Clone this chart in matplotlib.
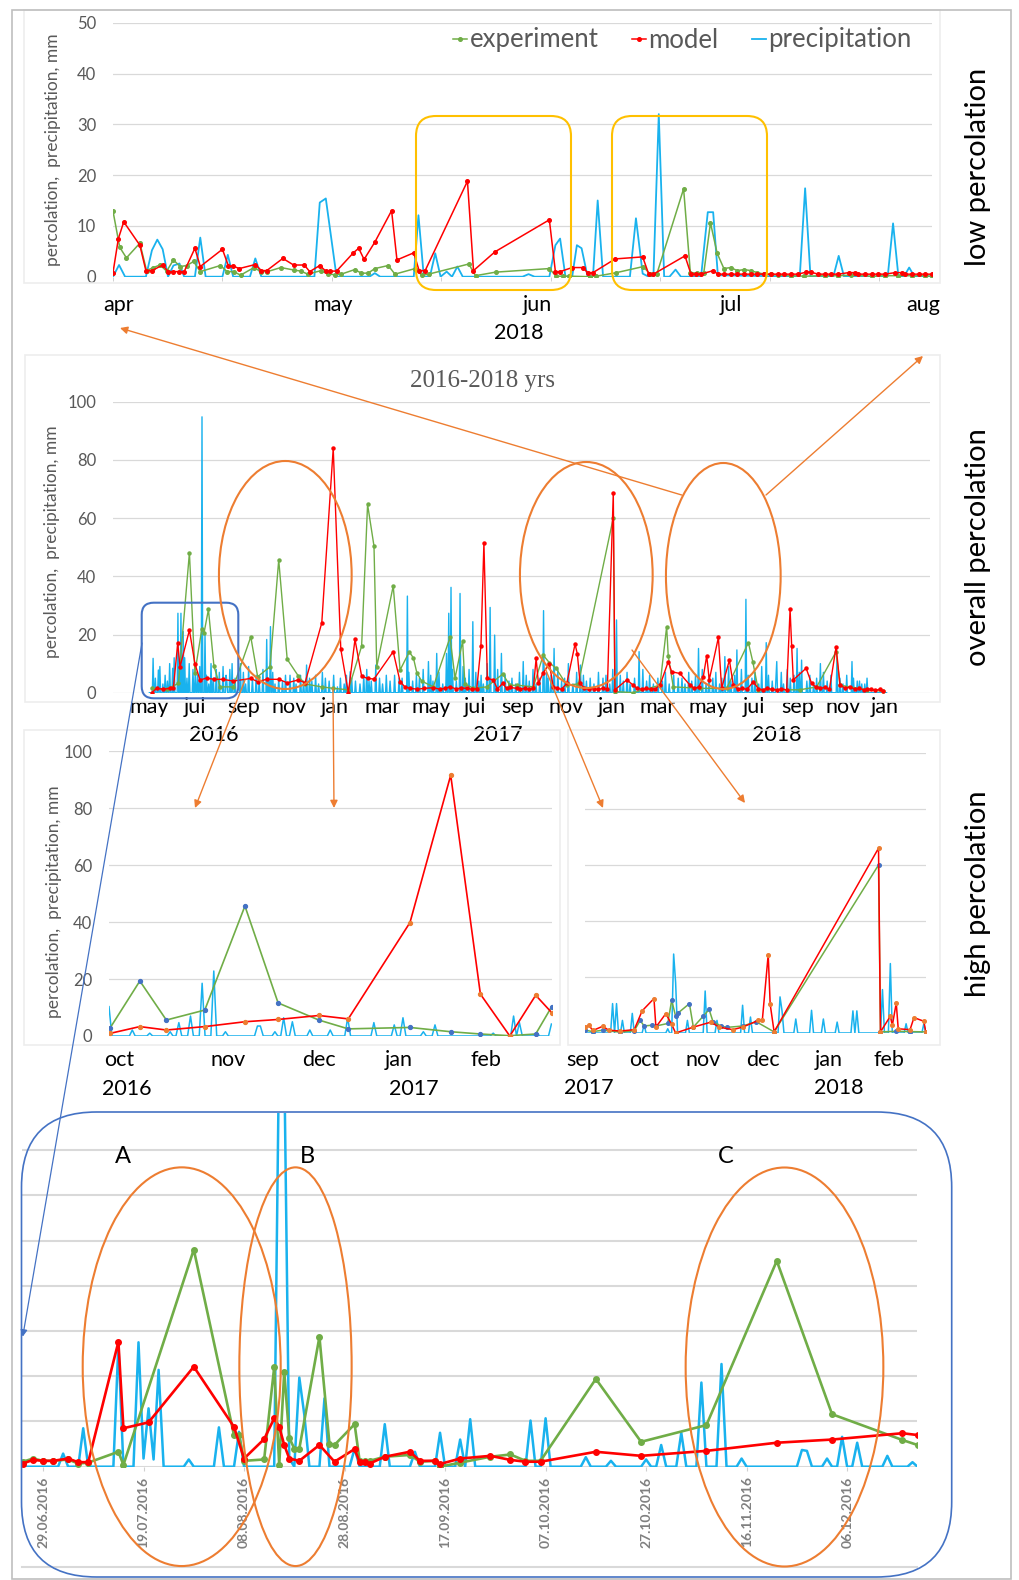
import numpy as np
import matplotlib
matplotlib.use('Agg')
import matplotlib.pyplot as plt
from matplotlib.patches import Ellipse, FancyBboxPatch, FancyArrowPatch, Rectangle
from matplotlib.lines import Line2D

plt.rcParams['font.family'] = ['Lato', 'DejaVu Sans']

# ---------------- DATA ----------------
# Top panel (low percolation, Apr-Aug 2018), x = day since 1 Apr 2018
top_months = ['apr', 'may', 'jun', 'jul', 'aug']
top_month_pos = [0.9, 32.8, 63.2, 92.1, 120.7]
top_year = ['2018']
top_year_pos = [60.5]
top_exp_day = [0, 1, 2, 4, 5, 6, 7, 8, 9, 10, 11, 12, 13, 16, 17, 18, 19, 21, 22, 23, 25, 27, 28, 29,
               31, 32, 33, 34, 36, 37, 38, 39, 41, 42, 45, 46, 47, 53, 54, 57, 65, 66, 67, 68, 71, 72,
               75, 79, 80, 81, 85, 86, 87, 88, 89, 90, 91, 92, 93, 94, 95, 96, 97, 98, 99, 101, 103,
               106, 108, 110, 113, 115, 117, 119, 121, 122]
top_exp_val = [12.9, 5.8, 3.7, 6.6, 1.2, 1.8, 2.3, 1.1, 3.3, 2.0, 2.2, 3.0, 1.0, 2.2, 1.0, 1.0, 0.3, 1.8,
               1.0, 1.0, 1.8, 1.3, 1.1, 0.5, 1.2, 0.5, 0.4, 0.5, 1.4, 0.7, 0.7, 1.6, 2.2, 0.5, 1.6, 0.3,
               0.5, 2.5, 0.2, 0.9, 1.6, 0.1, 0.1, 0.1, 0.0, 0.1, 0.8, 2.0, 0.5, 0.5, 17.3, 0.8, 0.7, 0.7,
               10.6, 4.6, 1.6, 1.8, 1.2, 1.4, 1.2, 0.8, 0.5, 0.5, 0.3, 0.2, 0.1, 0.2, 0.2, 0.3, 0.1, 0.2,
               0.2, 0.2, 0.2, 0.1]
top_mod_day = [0, 0.8, 1.6, 4.0, 4.9, 5.8, 7.4, 8.2, 9.0, 9.9, 10.6, 12.2, 13.0, 16.3, 17.2, 17.9, 18.8,
               21.2, 22.1, 22.9, 25.3, 26.9, 28.5, 29.3, 30.8, 31.7, 32.3, 33.3, 35.8, 36.6, 37.4, 39.0,
               41.5, 42.3, 44.8, 45.6, 46.5, 52.8, 53.7, 56.9, 65.0, 65.9, 66.6, 68.4, 70.0, 70.7, 71.5,
               74.8, 78.9, 79.8, 80.5, 85.2, 86.1, 86.9, 87.6, 89.4, 90.1, 91, 92, 93, 94, 95, 96, 97,
               98, 99, 100, 101, 102, 103.3, 104, 105, 106, 107, 108, 109.6, 110.5, 111, 112, 113, 114,
               115, 116.5, 117.5, 118, 119, 120, 121, 122]
top_mod_val = [0.8, 7.5, 10.8, 6.2, 1.2, 1.2, 2.3, 1.0, 1.0, 1.0, 1.0, 5.6, 2.0, 5.4, 2.1, 2.1, 1.6, 2.4,
               1.2, 1.2, 3.6, 2.3, 2.3, 1.0, 2.2, 1.1, 1.1, 1.1, 4.7, 5.6, 3.4, 6.8, 13.0, 3.3, 4.7, 1.2,
               1.2, 18.8, 1.2, 4.9, 11.2, 1.0, 1.0, 1.8, 1.8, 0.8, 0.8, 3.5, 3.9, 0.5, 0.5, 4.1, 0.5, 0.5,
               0.5, 1.2, 0.5, 0.5, 0.5, 0.5, 0.5, 0.5, 0.5, 0.5, 0.5, 0.5, 0.5, 0.5, 0.5, 0.9, 0.9, 0.5,
               0.5, 0.5, 0.5, 0.8, 0.8, 0.5, 0.5, 0.5, 0.5, 0.5, 0.8, 0.8, 0.5, 0.5, 0.5, 0.5, 0.5]
top_pre_day = [0, 0.9, 1.8, 4.9, 5.8, 6.6, 7.4, 8.2, 9.0, 9.9, 10.6, 12.2, 13.0, 13.8, 16.3, 17.1, 17.9,
               20.4, 21.2, 22.1, 30.0, 30.8, 31.7, 33.3, 38.2, 39.0, 39.8, 44.8, 45.5, 46.3, 47.2, 48.0,
               48.8, 49.7, 50.5, 51.3, 52.1, 61.0, 61.9, 62.8, 65.0, 65.9, 66.6, 67.4, 68.4, 69.1, 69.8,
               70.7, 71.5, 72.2, 73.0, 77.0, 77.9, 78.9, 79.8, 80.5, 81.3, 82.1, 82.9, 83.8, 84.6, 87.6,
               88.6, 89.4, 90.1, 102.3, 103.1, 103.9, 107.3, 108.1, 108.9, 115.4, 116.2, 117.0, 117.8,
               118.6, 119.4, 122]
top_pre_val = [0, 2.3, 0, 0, 5.2, 7.3, 5.4, 0, 2.2, 2.6, 0, 0, 7.7, 0, 0, 4.3, 0, 0, 3.6, 0, 0, 14.6,
               15.4, 0, 0, 0.7, 0, 0, 12.1, 0, 0, 4.6, 0, 1.0, 0, 2.0, 0, 0, 0.5, 0, 0, 6.2, 7.5, 0, 0,
               6.2, 5.6, 0, 0, 15.0, 0, 0, 11.5, 0.6, 0, 0, 32.0, 0, 0, 1.4, 0, 0, 12.7, 12.7, 0.3, 0,
               17.4, 0, 0, 4.1, 0, 0, 10.5, 0, 0, 1.8, 0, 0]

# Overall panel 2016-2018, x = months since 1 Apr 2016
all_months = ['may', 'jul', 'sep', 'nov', 'jan', 'mar', 'may', 'jul', 'sep', 'nov', 'jan', 'mar',
              'may', 'jul', 'sep', 'nov', 'jan']
all_month_pos = [1.6, 3.6, 5.7, 7.7, 9.7, 11.8, 13.9, 15.8, 17.7, 19.8, 21.8, 23.8, 26.0, 28.0,
                 29.9, 31.9, 33.7]
all_years = ['2016', '2017', '2018']
all_year_pos = [4.4, 16.8, 29.0]
all_exp_m = [1.70, 2.36, 2.87, 3.35, 3.59, 3.89, 3.99, 4.18, 4.42, 4.69, 5.27, 6.03, 6.33, 6.87, 7.25,
             7.62, 8.11, 8.40, 9.13, 9.63, 10.29, 10.87, 11.13, 11.41, 11.53, 12.25, 12.55, 12.95,
             13.13, 13.28, 13.49, 14.0, 14.73, 14.95, 15.28, 15.38, 15.75, 16.33, 17.03, 17.35, 17.64,
             18.37, 18.80, 19.07, 19.36, 19.83, 20.33, 21.86, 21.93, 22.73, 23.90, 24.19, 24.26, 24.48,
             25.65, 26.81, 27.76, 27.95, 28.19, 30.01, 30.74, 31.59, 31.76, 32.93, 33.65]
all_exp_v = [1.5, 1.2, 3.2, 48.1, 6.9, 21.8, 20.6, 28.6, 9.2, 2, 2, 19.2, 5.5, 8.9, 45.6, 11.5, 5.7, 3,
             2, 1.5, 1, 16, 64.7, 50.4, 8.9, 36.7, 7.8, 14, 12, 6.9, 4, 2, 19, 5, 17.8, 3, 1.5, 2, 6.4,
             2.5, 2.6, 2, 12.9, 10.3, 8.4, 2.6, 3, 60.1, 0.4, 0, 2.6, 22.7, 12.6, 2, 1.5, 1.5, 17.2,
             10.7, 1, 1, 2, 14.1, 2.6, 1, 0.5]
all_mod_m = [1.70, 1.92, 2.21, 2.50, 2.65, 2.84, 2.94, 3.35, 3.59, 3.81, 4.10, 4.42, 4.80, 5.27, 6.03,
             6.33, 6.72, 7.25, 7.62, 8.11, 8.40, 9.13, 9.63, 9.96, 10.29, 10.58, 10.87, 11.13, 11.41,
             12.25, 12.55, 12.76, 14.0, 14.73, 15.46, 16.08, 16.21, 16.36, 16.62, 17.03, 17.35, 17.64,
             18.37, 18.49, 18.59, 18.80, 19.07, 19.24, 19.83, 20.19, 20.29, 20.41, 21.86, 21.93, 22.45,
             22.73, 23.90, 24.26, 24.41, 24.77, 25.21, 25.79, 25.94, 26.05, 26.45, 26.59, 26.93, 27.10,
             27.97, 28.56, 29.43, 29.58, 29.65, 29.72, 30.28, 30.52, 31.59, 31.76, 32.93, 33.65]
all_mod_v = [0, 1.5, 1.2, 1.5, 1.7, 17, 8.9, 21.5, 10, 4.4, 5, 4.6, 4.6, 4, 4.9, 3.8, 4.6, 4.6, 3.4,
             4.4, 3.4, 24, 84, 15, 0, 18.3, 5.7, 4.9, 4.7, 14.1, 3.8, 2, 1.7, 2, 1.5, 16, 51.5, 4.9,
             4.4, 3.2, 1.8, 1.5, 1.5, 11.8, 3.2, 6.9, 9.9, 2, 3.2, 16.7, 13.3, 3.2, 68.7, 1, 4.4, 2.6,
             2.6, 10.7, 7.2, 6.6, 2.6, 5.5, 12.7, 4.4, 19, 1.5, 11.2, 2.6, 3.8, 1.5, 1, 28.6, 16, 4.4,
             8.4, 3.2, 15.8, 2.6, 1.2, 0.7]
# additional low model readings (dense markers near the baseline)
all_mod_m_low = [13.0, 13.3, 13.6, 14.3, 14.5, 15.0, 15.2, 15.7, 15.9, 16.8, 17.2, 17.8, 18.0, 18.2,
                 19.4, 19.6, 20.6, 20.8, 21.0, 21.2, 21.4, 21.6, 22.9, 23.1, 23.3, 23.5, 23.7, 25.4,
                 25.6, 27.3, 27.5, 27.7, 28.2, 28.4, 28.8, 29.0, 29.2, 30.7, 30.9, 31.1, 31.3, 32.0,
                 32.2, 32.4, 32.6, 32.8, 33.1, 33.3, 33.5]
all_mod_v_low = [1.5, 1.2, 1.5, 1.2, 1.5, 1.3, 1.6, 1.2, 1.4, 1.3, 1.5, 1.2, 1.5, 1.1, 1.5, 1.2, 1.5,
                 1.2, 1.4, 1.1, 1.5, 1.3, 1.5, 1.2, 1.5, 1.1, 1.4, 1.5, 2.0, 1.2, 1.5, 1.1, 1.3, 1.0,
                 1.2, 1.0, 1.3, 2.0, 1.5, 1.8, 1.2, 1.5, 2.0, 1.2, 1.5, 1.0, 1.3, 0.8, 1.2]
all_pre_m = [1.75, 1.99, 2.62, 2.84, 2.98, 3.08, 3.23, 3.52, 3.91, 4.03, 4.54, 4.83, 5.20, 5.56, 6.72,
             6.90, 7.74, 8.47, 10.36, 11.09, 11.50, 12.87, 13.78, 14.15, 14.58, 14.66, 14.76, 15.17,
             15.72, 16.48, 16.69, 16.99, 17.93, 18.80, 19.28, 19.90, 20.41, 22.01, 23.0, 25.57, 26.74,
             27.25, 27.64, 28.53, 29.0, 29.87, 30.09, 30.89, 31.62, 32.27, 32.93,
             2.2, 2.4, 3.7, 4.2, 4.4, 5.0, 5.8, 6.1, 6.4, 7.1, 7.4, 8.0, 8.7, 9.0, 9.3, 9.8, 10.1, 10.6,
             10.8, 11.3, 11.8, 12.1, 12.5, 13.1, 13.4, 14.0, 14.4, 15.0, 15.4, 16.0, 16.2, 17.3, 17.6,
             18.2, 18.5, 19.0, 19.6, 20.1, 20.7, 21.0, 21.4, 21.7, 22.3, 22.6, 23.3, 23.6, 24.0, 24.3,
             24.7, 25.0, 25.3, 25.9, 26.2, 26.5, 27.0, 27.9, 28.2, 28.8, 29.3, 29.6, 30.3, 30.6, 31.2,
             31.9, 32.5, 32.7,
             1.85, 2.05, 2.3, 2.5, 2.7, 2.9, 3.15, 3.35, 3.6, 3.8, 4.1, 4.3, 4.65, 4.95, 5.1, 5.35, 5.7,
             5.95, 6.25, 6.55, 6.8, 7.0, 7.25, 7.55, 7.9, 8.2, 8.35, 8.6, 8.85, 9.15, 9.45, 9.65, 9.95,
             10.2, 10.45, 10.95, 11.2, 11.65, 11.95, 12.3, 12.65, 12.95, 13.25, 13.55, 13.9, 14.25,
             14.85, 15.3, 15.55, 15.85, 16.1, 16.35, 16.8, 17.15, 17.45, 17.75, 18.05, 18.35, 18.65,
             18.95, 19.15, 19.45, 19.75, 20.25, 20.55, 20.85, 21.2, 21.55, 21.85, 22.15, 22.45, 22.8,
             23.15, 23.45, 23.8, 24.15, 24.5, 24.85, 25.15, 25.45, 25.75, 26.05, 26.35, 26.6, 26.9,
             27.15, 27.45, 27.75, 28.05, 28.35, 28.65, 28.95, 29.2, 29.45, 29.75, 30.0, 30.45, 30.75,
             31.05, 31.35, 31.75, 32.05, 32.35, 32.6, 32.85]
all_pre_v = [11.8, 7.8, 8.4, 27.3, 27.3, 21, 5, 8, 94.8, 20.4, 8, 9, 10, 10, 18.3, 22.7, 6, 9.5, 7.2,
             8, 9.5, 33.2, 10.7, 13.5, 13.5, 27.3, 36.2, 34.1, 24.4, 29.3, 19.8, 13.5, 10.7, 28.2, 15.2,
             10, 9.5, 25, 14.1, 15.2, 12.4, 14.7, 32.1, 17.2, 10.7, 15.2, 11.2, 10, 11.8, 10.7, 5,
             3, 4, 6, 3, 5, 4, 3, 5, 4, 3, 4, 3, 4, 3, 5, 2, 3, 4, 3, 4, 3, 4, 5, 4, 5, 4, 3, 4, 5, 4,
             3, 4, 3, 4, 3, 5, 4, 3, 4, 3, 5, 3, 4, 3, 4, 3, 4, 3, 5, 3, 4, 3, 5, 3, 4, 5, 3, 4, 3, 5,
             4, 3, 4, 3, 4, 3,
             5, 9, 6, 10, 12, 9, 12, 10, 7, 9, 6, 10, 7, 6, 8, 5, 7, 9, 6, 8, 5, 7, 5, 6, 5, 6, 4, 5, 6,
             7, 4, 6, 5, 6, 5, 6, 4, 5, 6, 6, 5, 7, 6, 8, 6, 7, 8, 9, 8, 7, 6, 10, 8, 6, 5, 7, 6, 8, 5,
             7, 6, 8, 5, 7, 6, 5, 7, 6, 8, 6, 7, 5, 8, 6, 5, 7, 6, 5, 7, 6, 8, 6, 7, 5, 9, 6, 8, 6, 7,
             9, 6, 5, 7, 8, 6, 7, 6, 5, 7, 6, 5, 6, 5, 4, 3]

# High percolation, left: Oct 2016 - Feb 2017 (x = day)
hl_months = ['oct', 'nov', 'dec', 'jan', 'feb']
hl_month_pos = [3.4, 40.9, 72.2, 99.7, 129.6]
hl_years = ['2016', '2017']
hl_year_pos = [6.2, 104.8]
hl_exp_day = [0.3, 10.6, 19.7, 32.9, 46.7, 58.1, 72.1, 82.2, 103.4, 117.4, 127.6, 137.7, 146.6, 152.1]
hl_exp_val = [2.7, 19.3, 5.6, 9.1, 45.6, 11.6, 5.6, 2.5, 3.0, 1.5, 0.7, 0.1, 0.7, 10.3]
hl_mod_day = [0.3, 10.6, 19.7, 32.9, 46.7, 58.1, 72.1, 82.2, 103.4, 117.4, 127.6, 137.7, 146.6, 152.1]
hl_mod_val = [0.9, 3.3, 2.1, 3.3, 5.0, 5.8, 7.2, 6.0, 39.8, 91.5, 14.7, 0.0, 14.3, 8.2]
hl_pre_day = [0, 8, 14, 21, 24, 28, 32, 36, 40, 51, 52, 57, 60, 63, 69, 76, 82, 91, 98, 101, 108, 112,
              132, 139, 141, 147, 152]
hl_pre_val = [10.3, 2.1, 1.0, 1.5, 4.7, 7.0, 18.5, 22.8, 1.5, 3.5, 3.5, 1.5, 6.4, 5.0, 2.1, 2.1, 6.4,
              4.7, 3.9, 6.4, 1.5, 3.9, 1.0, 7.0, 4.7, 1.0, 4.2]

# High percolation, right: Sep 2017 - Feb 2018 (x = day)
hr_months = ['sep', 'oct', 'nov', 'dec', 'jan', 'feb']
hr_month_pos = [-1.0, 30.0, 59.9, 90.4, 123.9, 154.3]
hr_years = ['2017', '2018']
hr_year_pos = [2.0, 129.0]
hr_exp_day = [0, 4, 9, 18, 25, 28, 30, 34, 36, 42, 44, 46, 47, 53, 55, 60, 63, 65, 69, 72, 80, 87, 96,
              149, 150, 158, 165, 173]
hr_exp_val = [1, 0.5, 1, 0.3, 0.8, 4.5, 2.5, 2.8, 2.5, 3.4, 11.7, 6, 7, 10.5, 2.1, 6, 8.4, 4, 2.5, 2,
              2.5, 4, 0.4, 60, 0.4, 0.6, 0.5, 0.4]
hr_mod_day = [0, 2, 4, 9, 12, 18, 25, 29, 35, 36, 41, 44, 46, 55, 64, 68, 75, 80, 88, 90, 93, 94, 96,
              149, 150, 155, 156, 158, 159, 165, 167, 172, 173]
hr_mod_val = [2.1, 2.7, 0.9, 2.4, 1, 0.7, 1.2, 7.9, 12.3, 2.1, 6.9, 3.1, 0, 2.1, 3.9, 2.1, 1.2, 2.1,
              4.5, 4.5, 28, 10.3, 0.4, 66, 0.4, 6, 2.7, 10.7, 1.5, 1.2, 5.5, 4.2, 0.4]
hr_pre_day = [14, 16, 19, 24, 30, 42, 45, 46, 52, 61, 67, 80, 84, 99, 100, 107, 115, 121, 128, 136,
              138, 151, 155, 163, 172]
hr_pre_val = [10.5, 10.5, 4.5, 7.0, 3.0, 1.5, 28.2, 18.0, 4.5, 15.0, 4.5, 9.9, 5.7, 12.9, 8.0, 5.0,
              8.1, 5.0, 3.9, 7.9, 7.9, 15.5, 24.8, 3.3, 3.3]

# Bottom zoom: x = day since 29.06.2016
bot_dates = ['29.06.2016', '19.07.2016', '08.08.2016', '28.08.2016', '17.09.2016', '07.10.2016',
             '27.10.2016', '16.11.2016', '06.12.2016']
bot_date_pos = [0, 20, 40, 60, 80, 100, 120, 140, 160]
bot_exp_day = [-4, -2, 0, 2, 5, 7, 9, 15, 16, 30, 38, 39, 40, 44, 46, 47, 48, 49, 50, 51, 55, 57, 58,
               62, 63, 64, 65, 68, 73, 75, 78, 79, 83, 89, 93, 96, 99, 110, 119, 132, 146, 157, 171, 174]
bot_exp_val = [1.1, 1.8, 1.3, 1.3, 1.6, 0.7, 0.9, 3.3, 0.4, 48, 7, 7, 1.3, 1.6, 22, 0.4, 21, 6.4, 4, 4,
               28.7, 5, 4.8, 9.4, 1.3, 1.3, 1.3, 2.2, 2.6, 1.1, 1.3, 0, 0.9, 2.2, 2.7, 1.3, 1.3, 19.4,
               5.5, 9.2, 45.5, 11.6, 5.9, 4.8]
bot_mod_day = [-4, -2, 0, 2, 5, 7, 9, 15, 16, 21, 30, 38, 40, 44, 46, 47, 48, 49, 51, 55, 58, 62, 63,
               64, 65, 68, 73, 75, 78, 79, 83, 89, 93, 96, 99, 110, 119, 132, 146, 157, 171, 174]
bot_mod_val = [0.7, 1.5, 1.3, 1.3, 1.8, 1, 1, 27.6, 8.5, 9.8, 22.1, 8.8, 1.8, 6.1, 10.7, 8.8, 4.8, 1.8,
               1.3, 4.8, 1.1, 3.9, 1, 1, 0.7, 2.2, 3.3, 1.3, 1.3, 0.6, 1.8, 2.4, 1.5, 1.1, 1.1, 3.3,
               2.4, 3.5, 5.3, 6.0, 7.4, 7.0]
bot_pre_day = [4, 8, 15, 19, 20, 21, 22, 23, 29, 35, 39, 47, 48, 49, 51, 52, 56, 62, 68, 74, 79, 83,
               85, 97, 100, 108, 113, 120, 123, 127, 131, 135, 139, 151, 152, 156, 159, 162, 168, 173]
bot_pre_val = [2.9, 8.5, 27.0, 27.5, 1.8, 12.9, 1.6, 21.4, 1.6, 8.7, 7.7, 95, 90, 1.8, 19.7, 11.4,
               15.1, 4.0, 9.4, 3.3, 7.5, 6.0, 10.5, 10.2, 10.7, 2.1, 1.3, 1.6, 4.8, 7.5, 18.6, 22.7,
               1.8, 3.7, 3.5, 1.8, 6.6, 5.3, 2.4, 1.0]

legend_labels = ['experiment', 'model', 'precipitation']
side_labels = ['low percolation', 'overall percolation', 'high percolation']
ylab = 'percolation,  precipitation, mm'

# ---------------- STYLE ----------------
W, H = 1020, 1580
GREEN = '#70AD47'; RED = '#FF0000'; CYAN = '#19B2EE'; ORANGE = '#ED7D31'
BLUE = '#4472C4'; GOLD = '#FFC000'; GRID = '#D9D9D9'; GRAY = '#595959'

fig = plt.figure(figsize=(W / 100, H / 100), dpi=100)


def rect(x0, y0, x1, y1):
    return [x0 / W, 1 - y1 / H, (x1 - x0) / W, (y1 - y0) / H]


def P(x, y):
    return (x / 100, (H - y) / 100)


def daily(days, vals, d0, d1):
    grid = np.arange(d0, d1 + 1)
    out = np.zeros(len(grid))
    for d, v in zip(days, vals):
        out[int(round(d - d0))] = v
    return grid, out


def style(ax, ymax, ystep, labels=True, grid_lw=0.9, pad=12):
    ax.set_ylim(0, ymax)
    ax.set_yticks(np.arange(0, ymax + 0.01, ystep))
    for s in ax.spines.values():
        s.set_visible(False)
    ax.grid(axis='y', color=GRID, lw=grid_lw)
    ax.set_axisbelow(True)
    ax.tick_params(axis='y', length=0, pad=pad, labelsize=12, labelcolor=GRAY)
    if not labels:
        ax.set_yticklabels([])
    ax.set_xticks([])
    ax.patch.set_alpha(0)


def xlabels(ax, pos, labels, off_px, size=15.5, color='black'):
    for x, l in zip(pos, labels):
        ax.annotate(l, xy=(x, 0), xycoords=('data', 'axes fraction'), xytext=(0, -off_px * 0.72),
                    textcoords='offset points', ha='center', va='center', fontsize=size,
                    color=color, annotation_clip=False)


# ---------------- light frames ----------------
for (x0, y0, x1, y1, c) in [(24, 10, 940, 283, '#EDEDED'), (25, 355, 940, 702, '#EDEDED'),
                            (24, 730, 560, 1045, '#EDEDED'), (568, 730, 940, 1045, '#EDEDED'),
                            (12, 9.5, 1011, 1579, '#BFBFBF')]:
    fig.add_artist(Rectangle(P(x0, y1), (x1 - x0) / 100, (y1 - y0) / 100, transform=fig.dpi_scale_trans,
                             fill=False, ec=c, lw=1.2, zorder=0.5))

# ---------------- top panel ----------------
ax1 = fig.add_axes(rect(113, 22.7, 932, 276.7))
style(ax1, 50, 10, pad=12)
ax1.set_xlim(0, 122)
ax1.plot(top_pre_day, top_pre_val, color=CYAN, lw=1.3, zorder=2)
ax1.plot(top_exp_day, top_exp_val, color=GREEN, lw=1.1, marker='o', ms=2.6, zorder=3)
ax1.plot(top_mod_day, top_mod_val, color=RED, lw=1.1, marker='o', ms=2.6, zorder=4)
ax1.set_xticks(np.arange(0, 122, 16.3), minor=True)
ax1.tick_params(axis='x', which='minor', length=3, color='#C8C8C8', direction='out')
ax1.set_ylabel(ylab, fontsize=12.5, color=GRAY)
ax1.yaxis.set_label_coords(-0.0635, 0.5)
xlabels(ax1, top_month_pos, top_months, 28)
xlabels(ax1, top_year_pos, top_year, 56)
hs = [Line2D([], [], color=GREEN, lw=1.1, marker='o', ms=2.6),
      Line2D([], [], color=RED, lw=1.1, marker='o', ms=2.6),
      Line2D([], [], color=CYAN, lw=1.3)]
leg = fig.legend(hs, legend_labels, loc='center right', bbox_to_anchor=(912 / W, 1 - 40 / H),
                 ncol=3, frameon=False, fontsize=18.5, handlelength=0.55, handletextpad=0.1,
                 columnspacing=1.3, borderpad=0, borderaxespad=0)
for t in leg.get_texts():
    t.set_color(GRAY)

# ---------------- overall panel ----------------
ax2 = fig.add_axes(rect(112.7, 401.7, 930, 692.7))
style(ax2, 100, 20, pad=12)
ax2.set_xlim(0, 35.69)
pstart = 1.6
grid_m = pstart + np.arange(int((33.8 - pstart) * 30.44) + 1) / 30.44
pvals = np.zeros(len(grid_m))
for m, v in zip(all_pre_m, all_pre_v):
    pvals[int(round((m - pstart) * 30.44))] = v
ax2.plot(grid_m, pvals, color=CYAN, lw=1.0, zorder=2)
ax2.plot(all_exp_m, all_exp_v, color=GREEN, lw=1.0, marker='o', ms=2.2, zorder=3)
mod_m = np.array(all_mod_m + all_mod_m_low)
mod_v = np.array(all_mod_v + all_mod_v_low)
order = np.argsort(mod_m, kind='stable')
ax2.plot(mod_m[order], mod_v[order], color=RED, lw=1.0, marker='o', ms=2.2, zorder=4)
ax2.set_ylabel(ylab, fontsize=12.5, color=GRAY)
ax2.yaxis.set_label_coords(-0.0645, 0.52)
xlabels(ax2, all_month_pos, all_months, 14)
xlabels(ax2, all_year_pos, all_years, 42)
fig.text(483 / W, 1 - 381 / H, '2016-2018 yrs', family=['Liberation Serif', 'DejaVu Serif'],
         fontsize=18, color=GRAY, ha='center', va='center')

# ---------------- high percolation left ----------------
ax3 = fig.add_axes(rect(109, 751, 552, 1036))
style(ax3, 100, 20, pad=12)
ax3.set_xlim(0, 152.2)
g, pv = daily(hl_pre_day, hl_pre_val, 0, 152)
ax3.plot(g, pv, color=CYAN, lw=1.1, zorder=2)
ax3.plot(hl_exp_day, hl_exp_val, color=GREEN, lw=1.2, marker='o', ms=2.8, mfc=BLUE, mec=BLUE, zorder=3)
ax3.plot(hl_mod_day, hl_mod_val, color=RED, lw=1.2, marker='o', ms=2.8, mfc=ORANGE, mec=ORANGE, zorder=4)
ax3.set_ylabel(ylab, fontsize=12.5, color=GRAY)
ax3.yaxis.set_label_coords(-0.107, 0.47)
xlabels(ax3, hl_month_pos, hl_months, 24)
xlabels(ax3, hl_year_pos, hl_years, 53)

# ---------------- high percolation right ----------------
ax4 = fig.add_axes(rect(585, 753, 926, 1033))
style(ax4, 100, 20, labels=False)
ax4.set_xlim(0, 173.1)
g, pv = daily(hr_pre_day, hr_pre_val, 0, 173)
ax4.plot(g, pv, color=CYAN, lw=1.1, zorder=2)
ax4.plot(hr_exp_day, hr_exp_val, color=GREEN, lw=1.1, marker='o', ms=2.6, mfc=BLUE, mec=BLUE, zorder=3)
ax4.plot(hr_mod_day, hr_mod_val, color=RED, lw=1.1, marker='o', ms=2.6, mfc=ORANGE, mec=ORANGE, zorder=4)
xlabels(ax4, hr_month_pos, hr_months, 27)
xlabels(ax4, hr_year_pos, hr_years, 55)

# ---------------- bottom zoom panel ----------------
ax5 = fig.add_axes(rect(21.7, 1112.7, 917, 1466.7))
style(ax5, 78.25, 10, labels=False, grid_lw=1.5)
ax5.set_yticks(np.arange(0, 71, 10))
ax5.set_xlim(-4.24, 173.9)
g, pv = daily(bot_pre_day, bot_pre_val, -4, 174)
ax5.plot(g, pv, color=CYAN, lw=1.8, zorder=2)
ax5.plot(bot_exp_day, bot_exp_val, color=GREEN, lw=1.9, marker='o', ms=4, zorder=3)
ax5.plot(bot_mod_day, bot_mod_val, color=RED, lw=1.9, marker='o', ms=4, zorder=4)
ax5.set_xticks(bot_date_pos)
ax5.set_xticklabels(bot_dates, rotation=90, fontsize=10, color='#808080', fontweight='bold',
                    va='top', ha='center')
ax5.tick_params(axis='x', length=3, color='#D0D0D0', pad=4)
fig.add_artist(Line2D([21.7 / W, 917 / W], [1 - 1566.7 / H] * 2, color=GRID, lw=1.5, zorder=0.6))

# ---------------- annotations ----------------
def frect(x0, y0, x1, y1, color, r, lw=1.5):
    fig.add_artist(FancyBboxPatch(P(x0, y1), (x1 - x0) / 100, (y1 - y0) / 100,
                                  boxstyle='round,pad=0,rounding_size=%f' % (r / 100),
                                  transform=fig.dpi_scale_trans, fill=False, ec=color, lw=lw, zorder=5))


def fell(cx, cy, w, h, color=ORANGE, lw=1.5):
    fig.add_artist(Ellipse(P(cx, cy), w / 100, h / 100, transform=fig.dpi_scale_trans,
                           fill=False, ec=color, lw=lw, zorder=5))


def farrow(x0, y0, x1, y1, color=ORANGE, lw=1.0, ms=11):
    fig.add_artist(FancyArrowPatch(P(x0, y0), P(x1, y1), transform=fig.dpi_scale_trans,
                                   arrowstyle='-|>', mutation_scale=ms, color=color, lw=lw,
                                   shrinkA=0, shrinkB=0, zorder=6))


frect(416, 116, 571, 290, GOLD, 20)
frect(612, 116, 767, 290, GOLD, 20)
frect(141.7, 602.7, 238.3, 698.3, BLUE, 12)
frect(21.5, 1112, 951.7, 1577, BLUE, 75, lw=1.2)

fell(285.3, 575, 132.7, 228)
fell(586.3, 575, 132.7, 226)
fell(723.3, 576, 114.7, 226)
fell(181.7, 1366.7, 198, 398.7)
fell(295.5, 1366.7, 112.3, 398.7)
fell(784.5, 1367, 197.7, 399)

farrow(681.7, 495, 120, 328)
farrow(766, 495, 923, 356)
farrow(245, 680, 195, 808)
farrow(333, 688, 334, 808)
farrow(545, 668, 603, 808)
farrow(632, 650, 745, 803)
farrow(142, 643, 22.7, 1336.7, color=BLUE, lw=0.9, ms=10)

for ch, x in zip(['A', 'B', 'C'], [122.7, 307.3, 726]):
    fig.text(x / W, 1 - 1156.7 / H, ch, fontsize=17, color='black', ha='center', va='center')

for lab, yc in zip(side_labels, [167, 547, 894]):
    fig.text(978 / W, 1 - yc / H, lab, rotation=90, fontsize=21, color='black', ha='center', va='center')

fig.savefig('out.png', dpi=100)
